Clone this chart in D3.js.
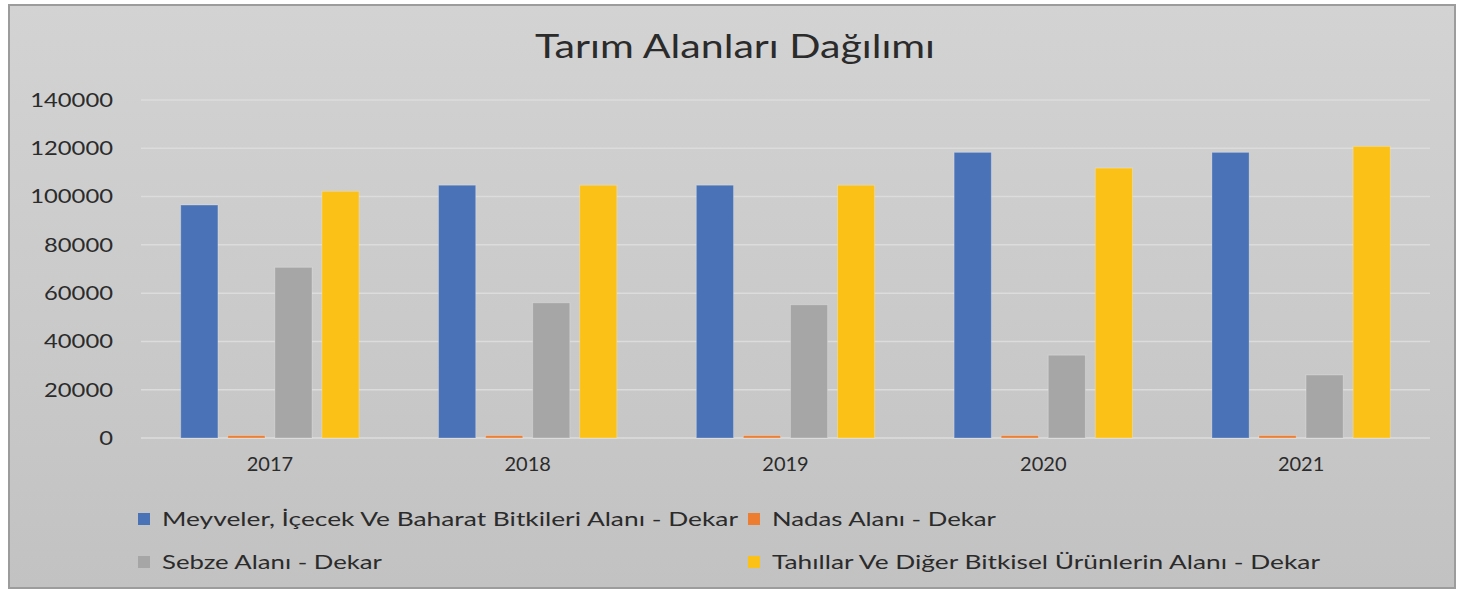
<!DOCTYPE html>
<html>
<head>
<meta charset="utf-8">
<script src="https://cdn.jsdelivr.net/npm/d3@7"></script>
<style>
  body { margin: 0; background: #fff; }
  text { font-family: Lato, "Open Sans", sans-serif; fill: #2b2b2b; }
</style>
</head>
<body>
<script>
var width = 1461, height = 591;

// data
var years = ["2017", "2018", "2019", "2020", "2021"];
var seriesNames = [
  "Meyveler, İçecek Ve Baharat Bitkileri Alanı - Dekar",
  "Nadas Alanı - Dekar",
  "Sebze Alanı - Dekar",
  "Tahıllar Ve Diğer Bitkisel Ürünlerin Alanı - Dekar"
];
var meyveler = [96500, 104700, 104700, 118300, 118300];
var nadas    = [1000, 1000, 1000, 1000, 1000];
var sebze    = [70700, 56000, 55200, 34300, 26100];
var tahillar = [102200, 104700, 104700, 111800, 120800];
var yTicks   = [0, 20000, 40000, 60000, 80000, 100000, 120000, 140000];
var colors   = ["#4a72b6", "#ed7d31", "#a5a6a5", "#fcc116"];

var values = [meyveler, nadas, sebze, tahillar];

var svg = d3.select("body").append("svg")
    .attr("width", width)
    .attr("height", height);

// фон с градиентом
var grad = svg.append("defs").append("linearGradient")
    .attr("id", "bg").attr("x1", 0).attr("y1", 0).attr("x2", 0).attr("y2", 1);
grad.append("stop").attr("offset", "0%").attr("stop-color", "#d3d3d3");
grad.append("stop").attr("offset", "100%").attr("stop-color", "#c2c2c2");

svg.append("rect")
    .attr("x", 9).attr("y", 5)
    .attr("width", 1446).attr("height", 583)
    .attr("fill", "url(#bg)")
    .attr("stroke", "#9c9c9c")
    .attr("stroke-width", 2);

// title
svg.append("text")
    .attr("x", 735).attr("y", 58)
    .attr("text-anchor", "middle")
    .attr("font-size", 32)
    .attr("textLength", 400)
    .attr("lengthAdjust", "spacingAndGlyphs")
    .text("Tarım Alanları Dağılımı");

var plotLeft = 141, plotRight = 1430, plotTop = 100, plotBottom = 438;

var y = d3.scaleLinear().domain([0, 140000]).range([plotBottom, plotTop]);

var x0 = d3.scaleBand().domain(years).range([plotLeft, plotRight])
    .paddingInner(0.27).paddingOuter(0.135);

var x1 = d3.scaleBand().domain(d3.range(4)).range([0, x0.bandwidth()])
    .paddingInner(0.21).paddingOuter(0.105);

// grid lines
svg.append("g").selectAll("line")
  .data(yTicks)
  .join("line")
    .attr("x1", plotLeft).attr("x2", plotRight)
    .attr("y1", function(d){ return y(d); })
    .attr("y2", function(d){ return y(d); })
    .attr("stroke", "#dcdcdc")
    .attr("stroke-width", 1.5);

// y axis labels
var yAxis = d3.axisLeft(y).tickValues(yTicks).tickFormat(d3.format("d"))
    .tickSize(0).tickPadding(0);
var gy = svg.append("g")
    .attr("transform", "translate(113,0)")
    .call(yAxis);
gy.select(".domain").remove();
gy.selectAll("text")
    .attr("font-size", 20)
    .attr("font-family", "Lato, 'Open Sans', sans-serif")
    .attr("fill", "#2b2b2b")
    .attr("textLength", function(d){ return String(d).length * 13.8; })
    .attr("lengthAdjust", "spacingAndGlyphs");

// x axis labels
var xAxis = d3.axisBottom(x0).tickSize(0).tickPadding(0);
var gx = svg.append("g")
    .attr("transform", "translate(0,457)")
    .call(xAxis);
gx.select(".domain").remove();
gx.selectAll("text")
    .attr("font-size", 20)
    .attr("font-family", "Lato, 'Open Sans', sans-serif")
    .attr("fill", "#2b2b2b");

// bars
var groups = svg.append("g").selectAll("g")
  .data(years)
  .join("g")
    .attr("transform", function(d){ return "translate(" + x0(d) + ",0)"; });

groups.selectAll("rect")
  .data(function(d, i){ return values.map(function(v, s){ return {s: s, v: v[i]}; }); })
  .join("rect")
    .attr("x", function(d){ return x1(d.s); })
    .attr("y", function(d){ return y(d.v); })
    .attr("width", x1.bandwidth())
    .attr("height", function(d){ return plotBottom - y(d.v); })
    .attr("fill", function(d){ return colors[d.s]; })
    .attr("stroke", "#ffffff")
    .attr("stroke-opacity", 0.25)
    .attr("stroke-width", 1);

// legend
var legendPos = [
  {x: 138, y: 519, w: 576},
  {x: 748, y: 519, w: 224},
  {x: 138, y: 562, w: 220},
  {x: 748, y: 562, w: 548}
];
var legend = svg.append("g").selectAll("g")
  .data(seriesNames)
  .join("g")
    .attr("transform", function(d, i){ return "translate(" + legendPos[i].x + "," + legendPos[i].y + ")"; });

legend.append("rect")
    .attr("x", 0).attr("y", -6)
    .attr("width", 12).attr("height", 12)
    .attr("fill", function(d, i){ return colors[i]; });

legend.append("text")
    .attr("x", 24).attr("y", 0)
    .attr("dy", "0.35em")
    .attr("font-size", 20)
    .attr("textLength", function(d, i){ return legendPos[i].w; })
    .attr("lengthAdjust", "spacingAndGlyphs")
    .text(function(d){ return d; });
</script>
</body>
</html>
